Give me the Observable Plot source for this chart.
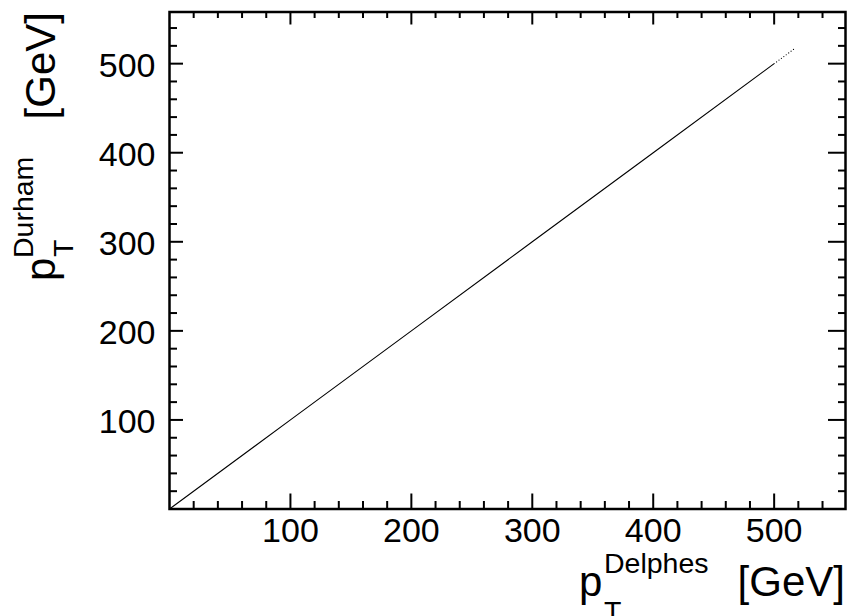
<!DOCTYPE html>
<html>
<head>
<meta charset="utf-8">
<script src="https://cdn.jsdelivr.net/npm/d3@7"></script>
<script src="https://cdn.jsdelivr.net/npm/@observablehq/plot@0.6"></script>
<style>
  html, body { margin: 0; padding: 0; background: #fff; }
  svg { display: block; }
</style>
</head>
<body>
<div id="chart"></div>
<script>
// ---- data ----
const diagX = [0, 100, 200, 300, 400, 500];
const diagY = [0, 100, 200, 300, 400, 500];
const tailX = [502, 504, 506, 508, 510, 512, 514, 516];
const tailY = [502, 504, 506, 508, 510, 512, 514, 516];
const majorTicks = [100, 200, 300, 400, 500];
const minorTicks = [20, 40, 60, 80, 120, 140, 160, 180, 220, 240, 260, 280, 320, 340, 360, 380, 420, 440, 460, 480, 520, 540];
const xDomain = [0, 559];
const yDomain = [0, 558];

const diag = diagX.map((x, i) => ({x, y: diagY[i]}));
const tail = tailX.map((x, i) => ({x, y: tailY[i]}));

const W = 849, H = 616;
const mL = 169, mR = 4, mT = 11.5, mB = 107.5;
const fw = W - mL - mR, fh = H - mT - mB;
const FONT = "'Liberation Sans', Arial, Helvetica, sans-serif";

const svg = Plot.plot({
  width: W,
  height: H,
  marginLeft: mL,
  marginRight: mR,
  marginTop: mT,
  marginBottom: mB,
  style: {fontFamily: FONT, background: "#fff", color: "#000"},
  x: {domain: xDomain, axis: null},
  y: {domain: yDomain, axis: null},
  marks: [
    // data
    Plot.line(diag, {x: "x", y: "y", stroke: "#000", strokeWidth: 1.1}),
    Plot.dot(tail, {x: "x", y: "y", r: 0.6, fill: "#000", stroke: null}),
    // ticks bottom
    Plot.tickX(majorTicks, {x: d => d, stroke: "#000", strokeWidth: 2, insetTop: fh - 15}),
    Plot.tickX(minorTicks, {x: d => d, stroke: "#000", strokeWidth: 2, insetTop: fh - 7.5}),
    // ticks top
    Plot.tickX(majorTicks, {x: d => d, stroke: "#000", strokeWidth: 2, insetBottom: fh - 13}),
    Plot.tickX(minorTicks, {x: d => d, stroke: "#000", strokeWidth: 2, insetBottom: fh - 6.5}),
    // ticks left
    Plot.tickY(majorTicks, {y: d => d, stroke: "#000", strokeWidth: 2, insetRight: fw - 14}),
    Plot.tickY(minorTicks, {y: d => d, stroke: "#000", strokeWidth: 2, insetRight: fw - 8}),
    // ticks right
    Plot.tickY(majorTicks, {y: d => d, stroke: "#000", strokeWidth: 2, insetLeft: fw - 17}),
    Plot.tickY(minorTicks, {y: d => d, stroke: "#000", strokeWidth: 2, insetLeft: fw - 7}),
    // tick labels
    Plot.text(majorTicks, {x: d => d, frameAnchor: "bottom", dy: 32.5, text: d => String(d), fontSize: 34, fill: "#000"}),
    Plot.text(majorTicks, {y: d => d, frameAnchor: "left", dx: -14, dy: 2.5, textAnchor: "end", text: d => String(d), fontSize: 34, fill: "#000"}),
    // frame
    Plot.frame({stroke: "#000", strokeWidth: 2.5})
  ]
});

const s = d3.select(svg);
// x-axis title: p_T^{Delphes} [GeV]
const gx = s.append("g").attr("font-family", FONT).attr("fill", "#000").attr("text-anchor", "start");
gx.append("text").attr("x", 579).attr("y", 596).attr("font-size", 42).attr("text-anchor", "start").text("p");
gx.append("text").attr("x", 604).attr("y", 573).attr("font-size", 28.5).attr("text-anchor", "start").text("Delphes");
gx.append("text").attr("x", 604).attr("y", 621).attr("font-size", 28.5).attr("text-anchor", "start").text("T");
gx.append("text").attr("x", 845).attr("y", 596).attr("font-size", 42).attr("text-anchor", "end").text("[GeV]");

// y-axis title: p_T^{Durham} [GeV]
const gy = s.append("g").attr("font-family", FONT).attr("fill", "#000").attr("text-anchor", "start")
  .attr("transform", "translate(55,12) rotate(-90)");
gy.append("text").attr("x", 0).attr("y", 0).attr("font-size", 42).attr("text-anchor", "end").text("[GeV]");
gy.append("text").attr("x", -246).attr("y", -22).attr("font-size", 28.5).attr("text-anchor", "start").text("Durham");
gy.append("text").attr("x", -269).attr("y", 0).attr("font-size", 42).attr("text-anchor", "start").text("p");
gy.append("text").attr("x", -245).attr("y", 18).attr("font-size", 28.5).attr("text-anchor", "start").text("T");

document.getElementById("chart").appendChild(svg);
</script>
</body>
</html>
